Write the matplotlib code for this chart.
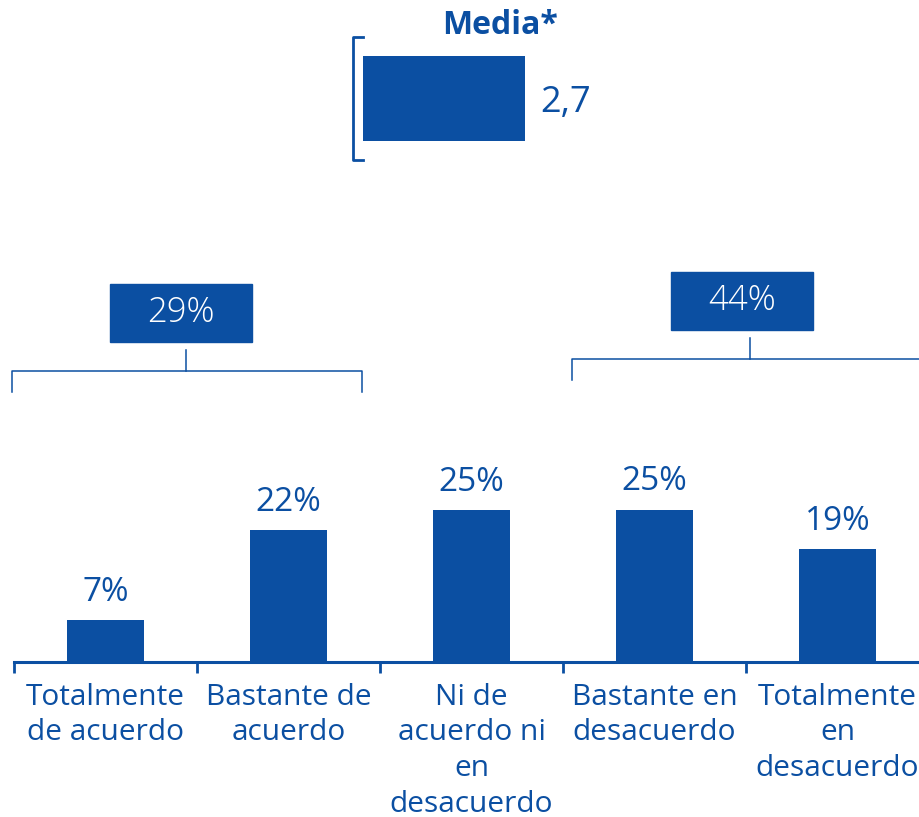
import matplotlib.pyplot as plt
from matplotlib.patches import Rectangle

# data
categories = ['Totalmente\nde acuerdo', 'Bastante de\nacuerdo', 'Ni de\nacuerdo ni\nen\ndesacuerdo',
              'Bastante en\ndesacuerdo', 'Totalmente\nen\ndesacuerdo']
values = [7.0, 22.0, 25.3, 25.4, 18.8]
media_label = 'Media*'
media_value = 2.7
groups = [(0, 2), (3, 5)]   # categories summed in each group box

blue = '#0b4fa2'
plt.rcParams['font.family'] = ['Open Sans', 'DejaVu Sans']

fig = plt.figure(figsize=(9.19, 8.17), dpi=100)
W, H = 919, 817

# main bar chart: baseline at y=662px, 6px per percentage point
ax = fig.add_axes([14 / W, 155 / H, 915 / W, 662 / H])
x = list(range(len(values)))
ax.bar(x, values, width=0.42, color=blue)
ax.set_xlim(-0.5, len(values) - 0.5)
ax.set_ylim(0, 662 / 6)

for i, v in enumerate(values):
    ax.annotate(f'{v:.0f}%', (i, v), xytext=(0, 8), textcoords='offset points',
                ha='center', va='bottom', fontsize=24, color=blue)

for s in ['top', 'right', 'left']:
    ax.spines[s].set_visible(False)
ax.spines['bottom'].set_color(blue)
ax.spines['bottom'].set_linewidth(2.2)
ax.set_yticks([])
ax.set_xticks([i - 0.5 for i in range(len(values) + 1)])
ax.set_xticklabels([])
ax.tick_params(axis='x', which='major', length=8, width=2, color=blue, direction='out')
ax.set_xticks(x, categories, minor=True)
ax.tick_params(axis='x', which='minor', length=0, pad=15, labelsize=21.5, labelcolor=blue)
for lbl in ax.get_xticklabels(minor=True):
    lbl.set_linespacing(1.3)

# group boxes with brackets
spans = [(-0.51, 1.40), (2.55, 4.7)]
box_cx = [0.41, 3.48]
stem_x = [0.44, 3.52]
box_bottom = [53.3, 55.3]
line_y = [48.5, 50.5]
for (a, b), (lo, hi), cx, sx, bb, ly in zip(groups, spans, box_cx, stem_x, box_bottom, line_y):
    total = sum(values[a:b])
    ax.plot([lo, lo, hi, hi], [ly - 3.5, ly, ly, ly - 3.5], color=blue, lw=1.1, clip_on=False)
    ax.plot([sx, sx], [ly, ly + 3.5], color=blue, lw=1.1, clip_on=False)
    ax.add_patch(Rectangle((cx - 0.388, bb), 0.776, 9.7, color=blue, clip_on=False))
    ax.text(cx, bb + 4.85, f'{total:.0f}%', ha='center', va='center', color='white',
            fontsize=25, fontweight='light')

# media bar
ax2 = fig.add_axes([363 / W, (H - 160) / H, 300 / W, 123 / H])
ax2.barh(0, media_value, height=0.683, color=blue)
ax2.set_xlim(0, 5)
ax2.set_ylim(-0.5, 0.5)
ax2.axis('off')
ax2.plot([0, -0.033, -0.033, 0], [1, 1, 0, 0], transform=ax2.transAxes,
         color=blue, lw=2, clip_on=False)
ax2.annotate(f'{media_value:.1f}'.replace('.', ','), (media_value, 0), xytext=(11, -3),
             textcoords='offset points', ha='left', va='center', fontsize=26, color=blue)
fig.text(500 / W, 1 - 25 / H, media_label, ha='center', va='center', fontsize=23,
         fontweight='bold', color=blue)

fig.savefig('out.png', dpi=100)
